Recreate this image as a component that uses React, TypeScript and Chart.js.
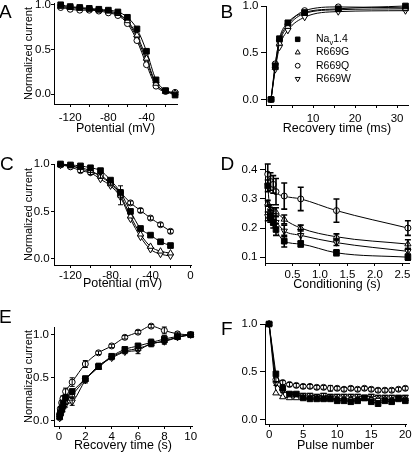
import React, { useEffect, useRef } from 'react';
import { Chart, registerables } from 'chart.js';

Chart.register(...registerables);

const FONT = "'Liberation Sans', Arial, Helvetica, sans-serif";

const SERIES_NAMES = ['Na_v1.4', 'R669G', 'R669Q', 'R669W'];

// ---------- Panel A: steady-state fast inactivation ----------
const potentialA = [-130, -120, -110, -100, -90, -80, -70, -60, -50, -40, -30, -20, -10];
const aNav = [1.0, 0.98, 0.97, 0.96, 0.95, 0.94, 0.92, 0.86, 0.73, 0.48, 0.16, 0.04, -0.01];
const aG = [0.98, 0.97, 0.96, 0.95, 0.94, 0.93, 0.9, 0.82, 0.66, 0.4, 0.12, 0.03, 0.01];
const aQ = [0.97, 0.95, 0.94, 0.94, 0.93, 0.91, 0.88, 0.79, 0.6, 0.33, 0.09, 0.03, 0.02];
const aW = [0.98, 0.97, 0.96, 0.95, 0.94, 0.92, 0.89, 0.81, 0.63, 0.37, 0.11, 0.04, 0.01];

// ---------- Panel B: recovery from fast inactivation ----------
const recoveryMs = [0, 1, 2, 4, 8, 16, 32];
const bNav = [0, 0.36, 0.65, 0.82, 0.93, 0.97, 1.0];
const bG = [0, 0.34, 0.6, 0.78, 0.92, 0.96, 0.97];
const bQ = [0, 0.38, 0.63, 0.8, 0.95, 0.99, 0.98];
const bW = [0, 0.32, 0.56, 0.74, 0.88, 0.94, 0.95];

// ---------- Panel C: slow inactivation ----------
const potentialC = [-130, -120, -110, -100, -90, -80, -70, -60, -50, -40, -30, -20];
const cNav = [1.0, 0.99, 0.98, 0.96, 0.93, 0.83, 0.7, 0.5, 0.32, 0.25, 0.18, 0.14];
const cG = [0.99, 0.98, 0.96, 0.93, 0.87, 0.79, 0.67, 0.45, 0.26, 0.13, 0.08, 0.06];
const cQ = [0.99, 0.97, 0.93, 0.91, 0.88, 0.8, 0.7, 0.59, 0.51, 0.43, 0.36, 0.29];
const cW = [0.99, 0.98, 0.95, 0.91, 0.84, 0.77, 0.65, 0.42, 0.23, 0.1, 0.05, 0.03];
const cGErr = [0, 0, 0, 0, 0, 0, 0.1, 0, 0, 0, 0, 0];
const cQErr = [0, 0, 0.02, 0.02, 0.03, 0.02, 0.02, 0.02, 0.02, 0.02, 0.02, 0.02];

// ---------- Panel D: entry into slow inactivation ----------
const conditioning = [0.05, 0.1, 0.15, 0.2, 0.35, 0.65, 1.3, 2.6];
const dNav = [0.345, 0.24, 0.22, 0.195, 0.155, 0.145, 0.115, 0.1];
const dG = [0.285, 0.27, 0.26, 0.255, 0.23, 0.2, 0.17, 0.145];
const dQ = [0.385, 0.36, 0.35, 0.325, 0.31, 0.3, 0.26, 0.2];
const dW = [0.24, 0.235, 0.225, 0.22, 0.19, 0.175, 0.15, 0.12];
const dNavErr = [0.02, 0.02, 0.02, 0.02, 0.02, 0.01, 0.01, 0.01];
const dGErr = [0.01, 0.01, 0.01, 0.015, 0.015, 0.01, 0.01, 0.015];
const dQErr = [0.035, 0.03, 0.03, 0.045, 0.045, 0.04, 0.04, 0.025];
const dWErr = [0.015, 0.015, 0.015, 0.02, 0.02, 0.02, 0.01, 0.01];

// ---------- Panel E: recovery from slow inactivation ----------
const recoveryS = [0.05, 0.1, 0.2, 0.3, 0.5, 1, 2, 3, 4, 5, 6, 7, 8, 9, 10];
const eNav = [0.05, 0.09, 0.14, 0.19, 0.27, 0.34, 0.49, 0.63, 0.75, 0.83, 0.87, 0.91, 0.95, 0.98, 1.0];
const eG = [0.04, 0.08, 0.12, 0.16, 0.22, 0.3, 0.48, 0.62, 0.74, 0.81, 0.84, 0.89, 0.93, 0.97, 1.0];
const eQ = [0.08, 0.14, 0.21, 0.26, 0.34, 0.45, 0.66, 0.79, 0.87, 0.97, 1.03, 1.1, 1.05, 1.01, 1.0];
const eW = [0.03, 0.06, 0.1, 0.14, 0.19, 0.22, 0.47, 0.64, 0.73, 0.8, 0.82, 0.9, 0.92, 0.97, 1.0];
const eNavErr = [0.02, 0.02, 0.02, 0.03, 0.03, 0.03, 0.03, 0.03, 0.02, 0.02, 0.03, 0.04, 0.04, 0.02, 0.01];
const eGErr = [0.02, 0.02, 0.02, 0.02, 0.03, 0.03, 0.03, 0.02, 0.02, 0.02, 0.03, 0.03, 0.03, 0.02, 0.01];
const eQErr = [0.02, 0.02, 0.03, 0.03, 0.04, 0.05, 0.04, 0.02, 0.02, 0.02, 0.02, 0.02, 0.04, 0.02, 0.01];
const eWErr = [0.02, 0.02, 0.02, 0.03, 0.03, 0.04, 0.03, 0.03, 0.02, 0.02, 0.04, 0.03, 0.03, 0.02, 0.01];

// ---------- Panel F: use-dependent reduction ----------
const pulses = [0, 1, 2, 3, 4, 5, 6, 7, 8, 9, 10, 11, 12, 13, 14, 15, 16, 17, 18, 19, 20];
const fNav = [1.0, 0.48, 0.33, 0.27, 0.27, 0.23, 0.22, 0.22, 0.22, 0.22, 0.2, 0.2, 0.19, 0.2, 0.23, 0.19, 0.17, 0.2, 0.19, 0.22, 0.2];
const fG = [1.0, 0.28, 0.24, 0.23, 0.23, 0.23, 0.23, 0.23, 0.22, 0.23, 0.22, 0.22, 0.22, 0.22, 0.22, 0.22, 0.22, 0.22, 0.21, 0.22, 0.22];
const fQ = [1.0, 0.42, 0.39, 0.37, 0.36, 0.35, 0.35, 0.34, 0.34, 0.33, 0.33, 0.32, 0.33, 0.32, 0.33, 0.32, 0.31, 0.31, 0.31, 0.32, 0.33];
const fW = [1.0, 0.38, 0.3, 0.27, 0.26, 0.26, 0.26, 0.25, 0.26, 0.25, 0.25, 0.25, 0.25, 0.25, 0.24, 0.25, 0.24, 0.24, 0.24, 0.24, 0.24];
const fQErr = [0, 0.02, 0.02, 0.02, 0.02, 0.02, 0.02, 0.02, 0.02, 0.03, 0.02, 0.02, 0.02, 0.02, 0.02, 0.02, 0.02, 0.02, 0.02, 0.02, 0.02];
const fWErr = [0, 0.02, 0.015, 0.015, 0.015, 0.015, 0.015, 0.015, 0.015, 0.015, 0.015, 0.015, 0.015, 0.015, 0.015, 0.015, 0.015, 0.015, 0.015, 0.015, 0.015];

type Marker = { style: string; radius: number; fill: string; rotation: number };
const MARKERS: Marker[] = [
  { style: 'rect', radius: 4, fill: '#000', rotation: 0 },
  { style: 'triangle', radius: 3.6, fill: '#fff', rotation: 0 },
  { style: 'circle', radius: 3, fill: '#fff', rotation: 0 },
  { style: 'triangle', radius: 3.6, fill: '#fff', rotation: 180 },
];

function buildDatasets(xs: number[], ys: number[][], errs: (number[] | null)[], curve: boolean, errWidth = 1, cap = 2.5) {
  return ys.map((vals, i) => ({
    label: SERIES_NAMES[i],
    data: xs.map((x, k) => ({ x, y: vals[k] })),
    errors: errs[i],
    errWidth,
    cap,
    showLine: true,
    borderColor: '#000',
    borderWidth: 1,
    cubicInterpolationMode: curve ? 'monotone' : 'default',
    tension: 0,
    pointStyle: MARKERS[i].style,
    pointRadius: MARKERS[i].radius,
    pointRotation: MARKERS[i].rotation,
    pointBackgroundColor: MARKERS[i].fill,
    pointBorderColor: '#000',
    pointBorderWidth: 1,
    clip: false,
  }));
}

const errorBarPlugin = {
  id: 'errorBars',
  afterDatasetsDraw(chart: any) {
    const ctx = chart.ctx;
    const ys = chart.scales.y;
    chart.data.datasets.forEach((ds: any, di: number) => {
      if (!ds.errors) return;
      const meta = chart.getDatasetMeta(di);
      ctx.save();
      ctx.strokeStyle = '#000';
      ctx.lineWidth = ds.errWidth || 1;
      meta.data.forEach((el: any, i: number) => {
        const e = ds.errors[i];
        if (!e) return;
        const v = ds.data[i].y;
        const top = ys.getPixelForValue(v + e);
        const bot = ys.getPixelForValue(v - e);
        const x = el.x;
        const c = ds.cap;
        ctx.beginPath();
        ctx.moveTo(x, top);
        ctx.lineTo(x, bot);
        ctx.moveTo(x - c, top);
        ctx.lineTo(x + c, top);
        ctx.moveTo(x - c, bot);
        ctx.lineTo(x + c, bot);
        ctx.stroke();
      });
      ctx.restore();
    });
  },
};

function drawMarker(ctx: CanvasRenderingContext2D, m: Marker, x: number, y: number, scale: number) {
  const r = m.radius * scale;
  ctx.beginPath();
  if (m.style === 'rect') {
    const s = r * Math.SQRT1_2;
    ctx.rect(x - s, y - s, 2 * s, 2 * s);
  } else if (m.style === 'circle') {
    ctx.arc(x, y, r, 0, Math.PI * 2);
  } else {
    const dir = m.rotation === 180 ? -1 : 1;
    ctx.moveTo(x, y - dir * r);
    ctx.lineTo(x + r * 0.866, y + dir * r * 0.5);
    ctx.lineTo(x - r * 0.866, y + dir * r * 0.5);
    ctx.closePath();
  }
  ctx.fillStyle = m.fill;
  ctx.fill();
  ctx.strokeStyle = '#000';
  ctx.lineWidth = 1;
  ctx.stroke();
}

function drawLabel(ctx: CanvasRenderingContext2D, text: string, x: number, y: number, size: number) {
  const parts = text.split('_');
  ctx.fillStyle = '#000';
  ctx.textBaseline = 'middle';
  ctx.textAlign = 'left';
  ctx.font = `${size}px ${FONT}`;
  let cx = x;
  ctx.fillText(parts[0], cx, y);
  cx += ctx.measureText(parts[0]).width;
  if (parts.length > 1) {
    const sub = parts[1][0];
    const rest = parts[1].slice(1);
    ctx.font = `${size * 0.72}px ${FONT}`;
    ctx.fillText(sub, cx, y + size * 0.3);
    cx += ctx.measureText(sub).width;
    ctx.font = `${size}px ${FONT}`;
    ctx.fillText(rest, cx, y);
  }
}

// legend placed inside panel B's plot area (offsets from the chart area's left/top)
const LEGEND_MARKER_DX = 31.7;
const LEGEND_TEXT_DX = 50;
const LEGEND_DY = 33.3;
const LEGEND_ROW = 13.2;

const insetLegendPlugin = {
  id: 'insetLegend',
  afterDraw(chart: any) {
    const ctx = chart.ctx as CanvasRenderingContext2D;
    const area = chart.chartArea;
    ctx.save();
    chart.data.datasets.forEach((ds: any, i: number) => {
      const y = area.top + LEGEND_DY + i * LEGEND_ROW;
      drawMarker(ctx, MARKERS[i], area.left + LEGEND_MARKER_DX, y, 0.8);
      drawLabel(ctx, ds.label, area.left + LEGEND_TEXT_DX, y, 10.5);
    });
    ctx.restore();
  },
};

type Spec = {
  w: number; h: number;
  left: number; right: number; top: number; bottom: number;
  xMin: number; xMax: number; xStep: number; xLabel: (v: number) => string; xPad: number; xTick: number;
  yMin: number; yMax: number; yStep: number; yPad: number; yTick: number;
  xTitle: string; xTitleY: number;
  yTitle?: string; yTitleX?: number;
  datasets: any[];
  plugins?: any[];
};

const TICK_SIZE = 11.5;
const XT_SIZE = 12.5;
const YT_SIZE = 11;

function makeConfig(s: Spec): any {
  return {
    type: 'scatter',
    data: { datasets: s.datasets },
    options: {
      animation: false,
      responsive: false,
      maintainAspectRatio: false,
      events: [],
      layout: { autoPadding: false, padding: { left: 0, top: s.top, right: s.w - s.right, bottom: 0 } },
      plugins: { legend: { display: false }, tooltip: { enabled: false } },
      scales: {
        x: {
          type: 'linear',
          position: 'bottom',
          min: s.xMin,
          max: s.xMax,
          border: { display: true, color: '#000', width: 1 },
          grid: { display: true, drawOnChartArea: false, drawTicks: true, tickLength: s.xTick, color: '#000', tickColor: '#000', tickWidth: 1 },
          ticks: {
            stepSize: s.xStep,
            includeBounds: false,
            autoSkip: false,
            maxRotation: 0,
            minRotation: 0,
            padding: s.xPad,
            color: '#000',
            font: { family: FONT, size: TICK_SIZE },
            callback: (v: any) => s.xLabel(Number(v)),
          },
          title: {
            display: true,
            text: s.xTitle,
            color: '#000',
            font: { family: FONT, size: XT_SIZE },
            padding: { top: 0, bottom: s.h - s.xTitleY - (XT_SIZE * 1.2) / 2 },
          },
          afterFit: (sc: any) => {
            sc.height = s.h - s.bottom;
            sc.paddingLeft = 0;
            sc.paddingRight = 0;
          },
        },
        y: {
          type: 'linear',
          position: 'left',
          min: s.yMin,
          max: s.yMax,
          border: { display: true, color: '#000', width: 1 },
          grid: { display: true, drawOnChartArea: false, drawTicks: true, tickLength: s.yTick, color: '#000', tickColor: '#000', tickWidth: 1 },
          ticks: {
            stepSize: s.yStep,
            includeBounds: false,
            autoSkip: false,
            padding: s.yPad,
            color: '#000',
            font: { family: FONT, size: TICK_SIZE },
            callback: (v: any) => Number(v).toFixed(1),
          },
          title: {
            display: !!s.yTitle,
            text: s.yTitle || '',
            color: '#000',
            font: { family: FONT, size: YT_SIZE },
            padding: { top: (s.yTitleX || 0) - (YT_SIZE * 1.2) / 2, bottom: 0 },
          },
          afterFit: (sc: any) => {
            sc.width = s.left;
            sc.paddingTop = 0;
            sc.paddingBottom = 0;
          },
        },
      },
    },
    plugins: [errorBarPlugin, ...(s.plugins || [])],
  };
}

const every40 = (v: number) => (Math.round(v) % 40 === 0 ? String(Math.round(v)) : '');

const PANELS: { x: number; y: number; letter: string; lx: number; ly: number; spec: Spec }[] = [
  {
    x: 0, y: 0, letter: 'A', lx: -1, ly: 1.5,
    spec: {
      w: 206, h: 150, left: 54, right: 177, top: 3, bottom: 104,
      xMin: -137, xMax: -8, xStep: 20, xLabel: every40, xPad: 4, xTick: 3,
      yMin: -0.11, yMax: 1.02, yStep: 0.5, yPad: 0, yTick: 3,
      xTitle: 'Potential (mV)', xTitleY: 128.3, yTitle: 'Normalized current', yTitleX: 29.3,
      datasets: buildDatasets(potentialA, [aNav, aG, aQ, aW], [null, null, null, null], true),
    },
  },
  {
    x: 206, y: 0, letter: 'B', lx: 220.5, ly: 1.5,
    spec: {
      w: 206, h: 150, left: 60, right: 202, top: 6, bottom: 105,
      xMin: -1.2, xMax: 32.6, xStep: 5, xLabel: (v) => (v !== 0 && v % 10 === 0 ? String(v) : ''), xPad: 4, xTick: 3,
      yMin: -0.06, yMax: 1.0, yStep: 0.5, yPad: 2.5, yTick: 5,
      xTitle: 'Recovery time (ms)', xTitleY: 128.6,
      datasets: buildDatasets(recoveryMs, [bNav, bG, bQ, bW], [null, null, null, null], true),
      plugins: [insetLegendPlugin],
    },
  },
  {
    x: 0, y: 150, letter: 'C', lx: 0, ly: 3.5,
    spec: {
      w: 206, h: 150, left: 54, right: 191, top: 14, bottom: 115,
      xMin: -136.5, xMax: 0.5, xStep: 20, xLabel: every40, xPad: 1, xTick: 3,
      yMin: -0.065, yMax: 1.0, yStep: 0.5, yPad: 1.3, yTick: 3,
      xTitle: 'Potential (mV)', xTitleY: 133.6, yTitle: 'Normalized current', yTitleX: 29.3,
      datasets: buildDatasets(potentialC, [cNav, cG, cQ, cW], [null, cGErr, cQErr, null], true),
    },
  },
  {
    x: 206, y: 150, letter: 'D', lx: 220.5, ly: 3.5,
    spec: {
      w: 206, h: 150, left: 59, right: 203, top: 14, bottom: 113,
      xMin: 0, xMax: 2.62, xStep: 0.5, xLabel: (v) => (v === 0 ? '' : v.toFixed(1)), xPad: 2, xTick: 3,
      yMin: 0.08, yMax: 0.42, yStep: 0.1, yPad: 2.5, yTick: 5,
      xTitle: 'Conditioning (s)', xTitleY: 134.3,
      datasets: buildDatasets(conditioning, [dNav, dG, dQ, dW], [dNavErr, dGErr, dQErr, dWErr], true, 1.6, 3),
    },
  },
  {
    x: 0, y: 300, letter: 'E', lx: -1, ly: 6.5,
    spec: {
      w: 206, h: 158, left: 54, right: 192, top: 27, bottom: 126,
      xMin: -0.38, xMax: 10.1, xStep: 2, xLabel: (v) => String(v), xPad: 0.5, xTick: 3,
      yMin: -0.06, yMax: 1.09, yStep: 0.5, yPad: 2, yTick: 3,
      xTitle: 'Recovery time (s)', xTitleY: 145.3, yTitle: 'Normalized current', yTitleX: 29.3,
      datasets: buildDatasets(recoveryS, [eNav, eG, eQ, eW], [eNavErr, eGErr, eQErr, eWErr], true),
    },
  },
  {
    x: 206, y: 300, letter: 'F', lx: 221, ly: 18.5,
    spec: {
      w: 206, h: 158, left: 59, right: 200, top: 24, bottom: 124,
      xMin: -0.6, xMax: 20.1, xStep: 5, xLabel: (v) => String(v), xPad: 0.5, xTick: 3,
      yMin: -0.042, yMax: 1.0, yStep: 0.5, yPad: 2.5, yTick: 5,
      xTitle: 'Pulse number', xTitleY: 145.3,
      datasets: buildDatasets(pulses, [fNav, fG, fQ, fW], [null, null, fQErr, fWErr], false),
    },
  },
];

function Panel({ x, y, spec }: { x: number; y: number; spec: Spec }) {
  const ref = useRef<HTMLCanvasElement>(null);
  useEffect(() => {
    if (!ref.current) return;
    const chart = new Chart(ref.current, makeConfig(spec));
    return () => chart.destroy();
  }, []);
  return (
    <canvas
      ref={ref}
      width={spec.w}
      height={spec.h}
      style={{ position: 'absolute', left: x, top: y, width: spec.w, height: spec.h }}
    />
  );
}

export default function App() {
  return (
    <div style={{ position: 'absolute', left: 0, top: 0, width: 412, height: 458, background: '#fff', overflow: 'hidden' }}>
      {PANELS.map((p) => (
        <Panel key={p.letter} x={p.x} y={p.y} spec={p.spec} />
      ))}
      {PANELS.map((p) => (
        <div
          key={'l' + p.letter}
          style={{
            position: 'absolute',
            left: p.lx,
            top: p.y + p.ly,
            fontFamily: FONT,
            fontSize: 19,
            lineHeight: 1,
            color: '#000',
          }}
        >
          {p.letter}
        </div>
      ))}
    </div>
  );
}
